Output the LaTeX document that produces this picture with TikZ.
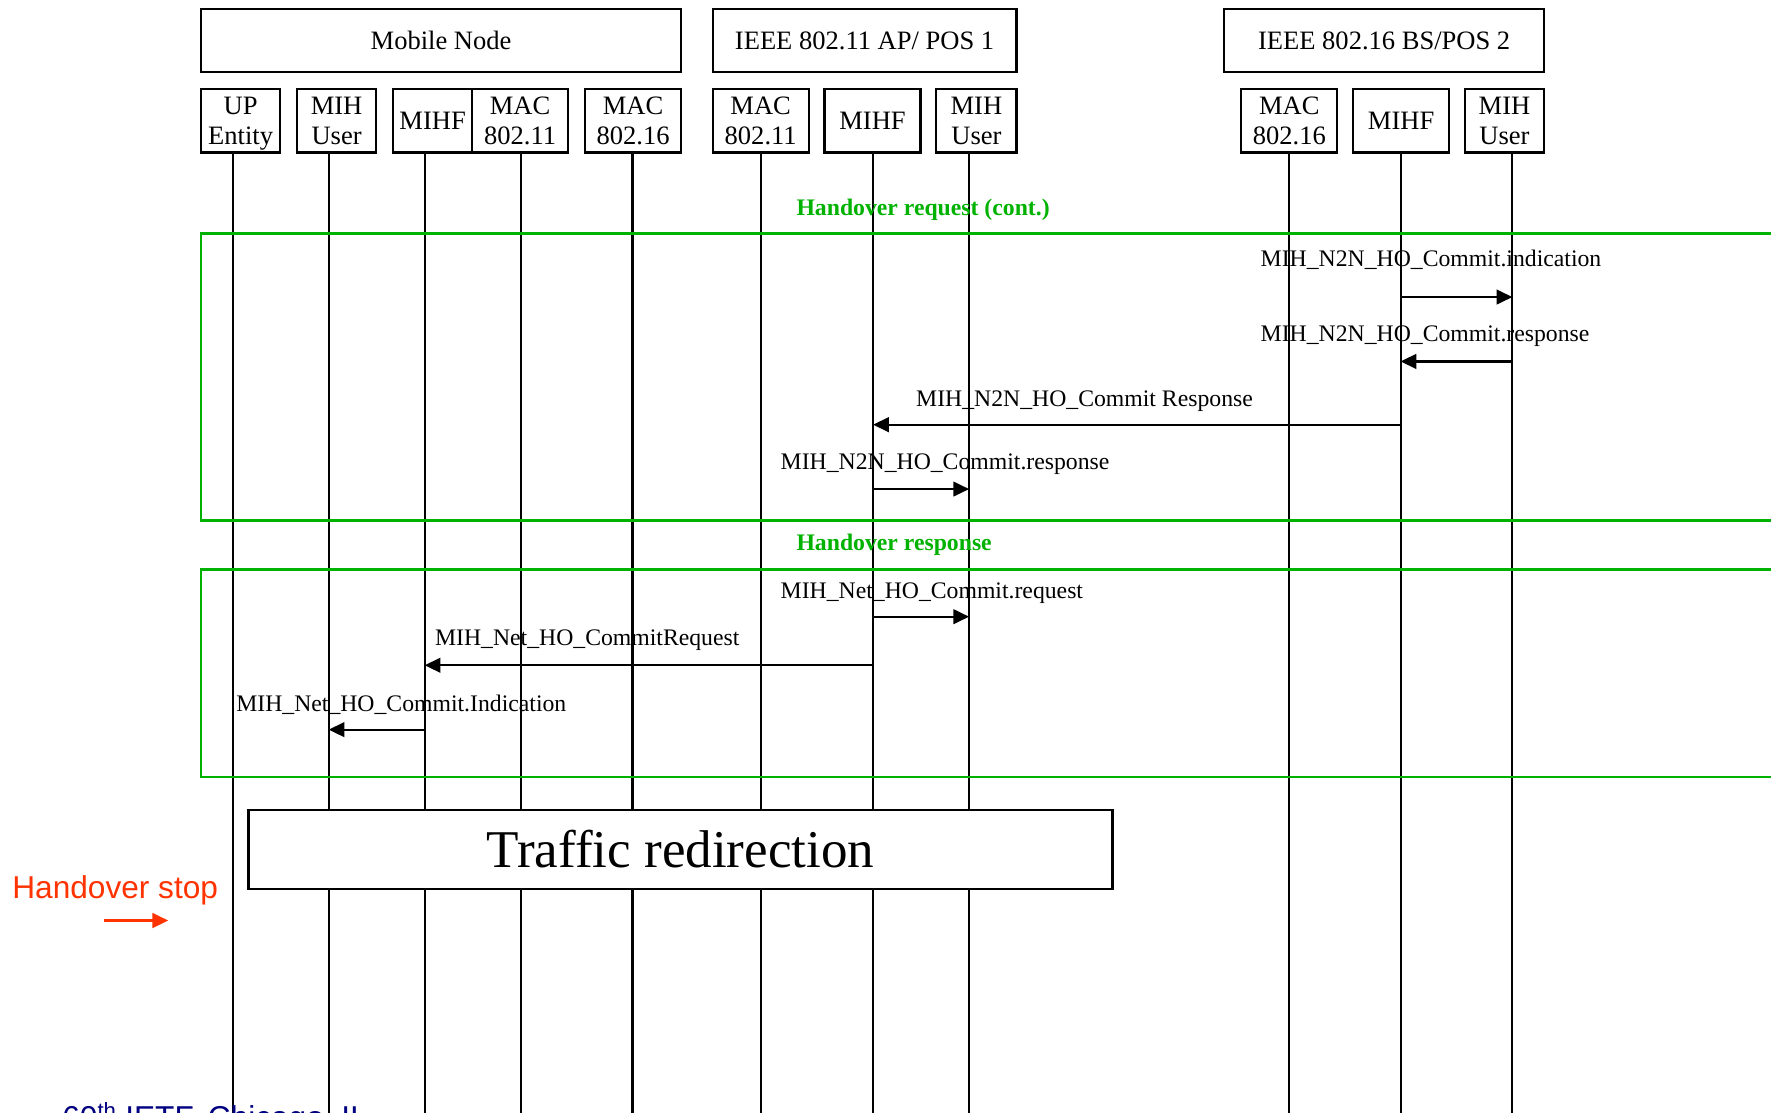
\documentclass[tikz,border=0pt]{standalone}
\usepackage{fontspec}
\setmainfont{Liberation Serif}
\newfontfamily\arialfont{Liberation Sans}
\usetikzlibrary{arrows.meta}
\definecolor{frgreen}{RGB}{0,178,0}
\definecolor{hored}{RGB}{255,51,0}
\definecolor{ietfblue}{RGB}{0,0,128}
\begin{document}
\begin{tikzpicture}[x=1pt,y=-1pt,
  topbox/.style={draw,line width=2pt,minimum height=56pt,inner sep=0pt,font=\fontsize{23.5}{26}\selectfont},
  subbox/.style={draw,line width=2pt,minimum height=56pt,inner sep=0pt,align=center,font=\fontsize{23.5}{26}\selectfont},
  life/.style={line width=1.8pt},
  msg/.style={line width=2pt,-{Triangle[length=14pt,width=13pt]}},
  msglabel/.style={anchor=west,inner sep=0pt,font=\fontsize{21}{24}\selectfont},
  frame/.style={draw=frgreen,line width=2.5pt},
  framelabel/.style={anchor=west,inner sep=0pt,text=frgreen,font=\fontsize{21}{24}\selectfont\bfseries}]
\useasboundingbox (0,0) rectangle (1568,985);
\clip (0,0) rectangle (1568,985);
% top boxes
\node[topbox,minimum width=425pt] (mn) at (390.5,36) {Mobile Node};
\node[topbox,minimum width=269pt] (ap) at (765.5,36) {IEEE 802.11 AP/ POS 1};
\node[topbox,minimum width=283pt] (bs) at (1225.5,36) {IEEE 802.16 BS/POS 2};
% sub boxes
\node[subbox,minimum width=70pt] (upe) at (213,107) {UP\\Entit\smash{y}};
\node[subbox,minimum width=70pt] (mnu) at (298,107) {MIH\\User};
\node[subbox,minimum width=70pt] (mnf) at (383,107) {MIHF};
\node[subbox,minimum width=85pt] (mnmac11) at (460.5,107) {MAC\\802.11};
\node[subbox,minimum width=85pt] (mnmac16) at (560.5,107) {MAC\\802.16};
\node[subbox,minimum width=85pt] (apmac) at (673.5,107) {MAC\\802.11};
\node[subbox,minimum width=85pt] (apf) at (772.5,107) {MIHF};
\node[subbox,minimum width=71pt] (apu) at (864.5,107) {MIH\\User};
\node[subbox,minimum width=85pt] (bsmac) at (1141.5,107) {MAC\\802.16};
\node[subbox,minimum width=85pt] (bsf) at (1240.5,107) {MIHF};
\node[subbox,minimum width=70pt] (bsu) at (1332,107) {MIH\\User};
% lifeline tops
\coordinate (L-upe) at (206,135);
\coordinate (L-mnu) at (291,135);
\coordinate (L-mnf) at (376,135);
\coordinate (L-mnmac11) at (461,135);
\coordinate (L-mnmac16) at (560,135);
\coordinate (L-apmac) at (674,135);
\coordinate (L-apf) at (773,135);
\coordinate (L-apu) at (858,135);
\coordinate (L-bsmac) at (1141,135);
\coordinate (L-bsf) at (1240,135);
\coordinate (L-bsu) at (1339,135);
\foreach \n in {upe,mnu,mnf,mnmac11,mnmac16,apmac,apf,apu,bsmac,bsf,bsu}
  \draw[life] (L-\n) -- (L-\n |- 0,1000);
% frames
\draw[frame] (178,207) rectangle (1600,461);
\node[framelabel] (fl1) at (705,185.5) {Handover request (cont.)};
\draw[frame] (178,504) rectangle (1600,688);
\node[framelabel] (fl2) at (705,482.5) {Handover response};
% messages
\node[msglabel] (m1) at (1116,230) {MIH\_N2N\_HO\_Commit.indication};
\draw[msg] (L-bsf |- 0,263) -- (L-bsu |- 0,263);
\node[msglabel] (m2) at (1116,298) {MIH\_N2N\_HO\_Commit.response};
\draw[msg] (L-bsu |- 0,320) -- (L-bsf |- 0,320);
\node[msglabel] (m3) at (811,355) {MIH\_N2N\_HO\_Commit Response};
\draw[msg] (L-bsf |- 0,376) -- (L-apf |- 0,376);
\node[msglabel] (m4) at (691,411) {MIH\_N2N\_HO\_Commit.response};
\draw[msg] (L-apf |- 0,433) -- (L-apu |- 0,433);
\node[msglabel] (m5) at (691,525) {MIH\_Net\_HO\_Commit.request};
\draw[msg] (L-apf |- 0,546) -- (L-apu |- 0,546);
\node[msglabel] (m6) at (385,567) {MIH\_Net\_HO\_CommitRequest};
\draw[msg] (L-apf |- 0,589) -- (L-mnf |- 0,589);
\node[msglabel] (m7) at (209,624) {MIH\_Net\_HO\_Commit.Indication};
\draw[msg] (L-mnf |- 0,646) -- (L-mnu |- 0,646);
% traffic redirection
\node[draw,fill=white,line width=2pt,minimum width=765pt,minimum height=70pt,inner sep=0pt,font=\fontsize{47}{50}\selectfont] (tr) at (602.5,752) {Traffic redirection};
% handover stop
\node[inner sep=0pt,text=hored,font=\arialfont\fontsize{28}{30}\selectfont] (hs) at (102,788) {Handover stop};
\coordinate (hsa) at (92,815);
\coordinate (hsb) at (149,815);
\draw[hored,line width=2pt,-{Triangle[length=14pt,width=13pt]}] (hsa) -- (hsb);
% footer (cut by the lower edge, as in the reference)
\node[anchor=base west,inner sep=0pt,text=ietfblue,font=\arialfont\fontsize{28}{30}\selectfont] (foot) at (55,999) {60\textsuperscript{th} IETF, Chicago, IL};
\end{tikzpicture}
\end{document}
